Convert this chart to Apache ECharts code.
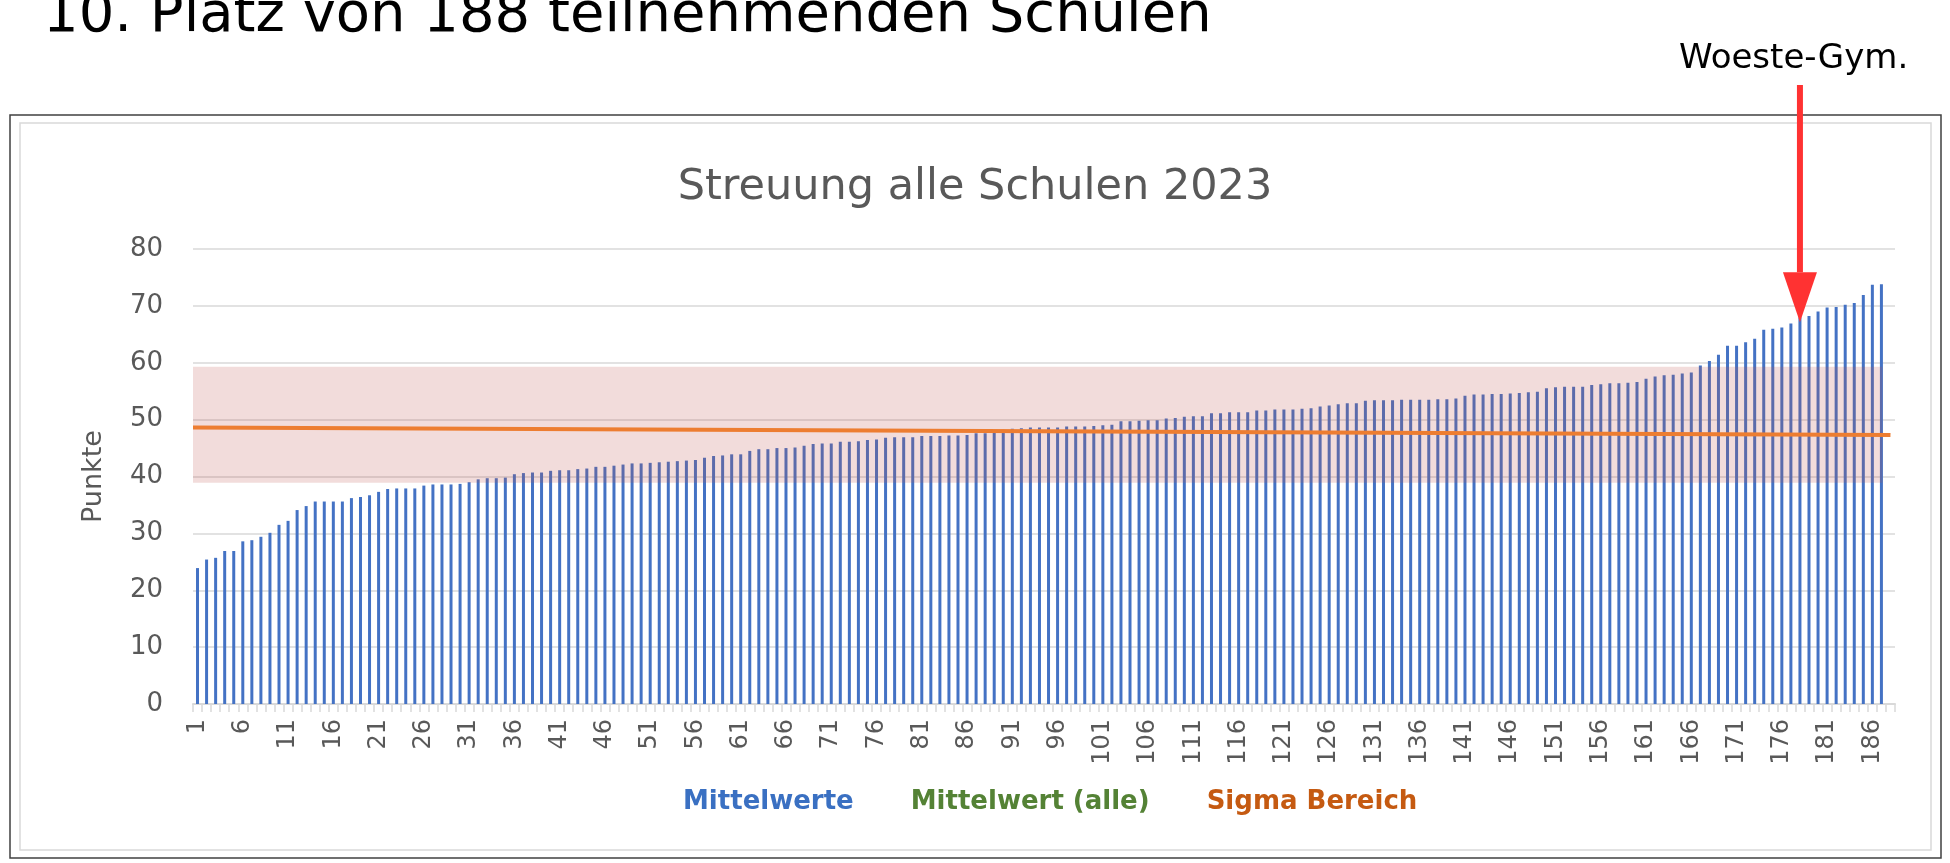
<!DOCTYPE html>
<html>
<head>
<meta charset="utf-8">
<script src="https://cdn.jsdelivr.net/npm/echarts@6/dist/echarts.min.js"></script>
<style>
  html, body { margin: 0; padding: 0; background: #fff; }
  #chart { width: 1950px; height: 863px; }
</style>
</head>
<body>
<div id="chart"></div>
<script>
// Mittelwerte der Schulen, aufsteigend sortiert (Schule 1 .. 187)
const schoolMeans = [
  23.9, 25.4, 25.7, 26.9, 26.9, 28.6, 28.8, 29.4, 30.1, 31.5,
  32.2, 34.1, 34.8, 35.6, 35.6, 35.6, 35.6, 36.2, 36.4, 36.7,
  37.3, 37.8, 37.9, 37.9, 37.9, 38.4, 38.6, 38.6, 38.6, 38.7,
  39.0, 39.5, 39.7, 39.7, 39.8, 40.4, 40.6, 40.7, 40.7, 41.0,
  41.1, 41.1, 41.3, 41.4, 41.7, 41.7, 41.9, 42.1, 42.3, 42.3,
  42.4, 42.5, 42.6, 42.7, 42.8, 42.9, 43.3, 43.6, 43.7, 43.9,
  43.9, 44.5, 44.8, 44.8, 45.0, 45.0, 45.1, 45.4, 45.7, 45.8,
  45.8, 46.1, 46.1, 46.2, 46.4, 46.5, 46.8, 46.9, 46.9, 46.9,
  47.1, 47.1, 47.1, 47.2, 47.2, 47.3, 47.6, 47.6, 47.7, 48.2,
  48.4, 48.5, 48.6, 48.6, 48.6, 48.6, 48.8, 48.8, 48.8, 48.9,
  49.0, 49.1, 49.7, 49.7, 49.8, 49.9, 49.9, 50.2, 50.3, 50.5,
  50.6, 50.6, 51.1, 51.1, 51.3, 51.3, 51.3, 51.6, 51.6, 51.8,
  51.8, 51.8, 51.9, 52.0, 52.3, 52.5, 52.7, 52.9, 52.9, 53.3,
  53.4, 53.4, 53.4, 53.5, 53.5, 53.5, 53.5, 53.6, 53.6, 53.7,
  54.2, 54.4, 54.4, 54.5, 54.5, 54.6, 54.7, 54.8, 54.9, 55.5,
  55.7, 55.8, 55.8, 55.8, 56.1, 56.2, 56.4, 56.4, 56.5, 56.6,
  57.2, 57.6, 57.8, 57.9, 58.1, 58.3, 59.5, 60.3, 61.4, 63.0,
  63.0, 63.6, 64.2, 65.8, 66.0, 66.2, 66.9, 68.0, 68.2, 69.0,
  69.7, 69.8, 70.2, 70.5, 71.9, 73.7, 73.8
];
// 188 Schulen auf der Achse
const schoolCount = 188;
const categories = Array.from({ length: schoolCount }, (_, i) => String(i + 1));
// Mittelwert (alle): Anfang / Ende der Linie
const meanLineX = [0, 187.5];
const meanLineY = [48.6, 47.3];
// Sigma Bereich (unten, oben) und rechtes Ende
const sigmaBand = [38.9, 59.3];
const sigmaBandEnd = 186.6;
const yTicks = [0, 80, 10]; // min, max, interval
const markedSchool = '178'; // Woeste-Gym.

const chart = echarts.init(document.getElementById('chart'));
const font = 'DejaVu Sans';

const option = {
  backgroundColor: '#fff',
  animation: false,
  title: {
    text: 'Streuung alle Schulen 2023',
    left: 'center',
    top: 166,
    padding: 0,
    textStyle: { fontFamily: font, fontSize: 43, fontWeight: 'normal', color: '#595959' }
  },
  legend: {
    left: 673,
    top: 784,
    icon: 'none',
    itemWidth: 0,
    itemHeight: 10,
    itemGap: 52,
    selectedMode: false,
    textStyle: { fontFamily: font, fontSize: 26, fontWeight: 'bold' },
    data: [
      { name: 'Mittelwerte', textStyle: { color: '#3A70C2' } },
      { name: 'Mittelwert (alle)', textStyle: { color: '#548235' } },
      { name: 'Sigma Bereich', textStyle: { color: '#C55A11' } }
    ]
  },
  grid: { left: 193, right: 55, top: 249, bottom: 159 },
  xAxis: [
    {
      type: 'category',
      data: categories,
      axisLine: { lineStyle: { color: '#D9D9D9', width: 2 } },
      axisTick: { show: true, interval: 0, length: 8, lineStyle: { color: '#D9D9D9', width: 1.5 } },
      axisLabel: { interval: 4, rotate: 90, margin: 15, fontFamily: font, fontSize: 24, color: '#595959' },
      splitLine: { show: false }
    },
    { type: 'value', min: 0, max: schoolCount, show: false }
  ],
  yAxis: {
    type: 'value',
    min: yTicks[0],
    max: yTicks[1],
    interval: yTicks[2],
    name: 'Punkte',
    nameLocation: 'middle',
    nameRotate: 90,
    nameGap: 86,
    nameTextStyle: { fontFamily: font, fontSize: 27, color: '#595959' },
    axisLine: { show: false },
    axisTick: { show: false },
    axisLabel: { margin: 30, fontFamily: font, fontSize: 26, color: '#595959' },
    splitLine: { lineStyle: { color: '#D9D9D9', width: 1.5 } }
  },
  series: [
    {
      name: 'Mittelwerte',
      type: 'bar',
      xAxisIndex: 0,
      data: schoolMeans,
      barWidth: 3,
      itemStyle: { color: '#4472C4' },
      z: 2
    },
    {
      name: 'Mittelwert (alle)',
      type: 'line',
      xAxisIndex: 1,
      data: meanLineX.map((x, i) => [x, meanLineY[i]]),
      symbol: 'none',
      lineStyle: { color: '#ED7D31', width: 4 },
      itemStyle: { color: '#ED7D31' },
      z: 6
    },
    {
      name: 'Sigma Bereich',
      type: 'line',
      xAxisIndex: 1,
      data: [],
      symbol: 'none',
      itemStyle: { color: '#C0504D' },
      markArea: {
        silent: true,
        z: 4,
        itemStyle: { color: 'rgba(192, 80, 77, 0.2)' },
        data: [[{ coord: [0, sigmaBand[0]] }, { coord: [sigmaBandEnd, sigmaBand[1]] }]]
      }
    }
  ],
  graphic: [
    { id: 'frameOuter', type: 'rect', shape: { x: 10, y: 115, width: 1931, height: 743 },
      style: { fill: null, stroke: '#404040', lineWidth: 1.5 }, silent: true },
    { id: 'frameInner', type: 'rect', shape: { x: 20, y: 123, width: 1911, height: 727 },
      style: { fill: null, stroke: '#D9D9D9', lineWidth: 1.5 }, silent: true },
    { id: 'headline', type: 'text', left: 43, top: -12,
      style: { text: '10. Platz von 188 teilnehmenden Schulen', font: '56px "DejaVu Sans"', fill: '#000' } },
    { id: 'schoolName', type: 'text', left: 1679, top: 42,
      style: { text: 'Woeste-Gym.', font: '34px "DejaVu Sans"', fill: '#000' } }
  ]
};
chart.setOption(option);

// Pfeil auf die markierte Schule
const tip = chart.convertToPixel({ xAxisIndex: 0, yAxisIndex: 0 }, [markedSchool, schoolMeans[Number(markedSchool) - 1]]);
const shaftTop = 85;
chart.setOption({
  graphic: [
    { id: 'arrowShaft', type: 'rect', shape: { x: tip[0] - 3, y: shaftTop, width: 6, height: tip[1] + 5 - 50 - shaftTop },
      style: { fill: '#FF3232' }, z: 10 },
    { id: 'arrowHead', type: 'polygon',
      shape: { points: [[tip[0] - 17, tip[1] + 5 - 50], [tip[0] + 17, tip[1] + 5 - 50], [tip[0], tip[1] + 5]] },
      style: { fill: '#FF3232' }, z: 10 }
  ]
});
</script>
</body>
</html>
